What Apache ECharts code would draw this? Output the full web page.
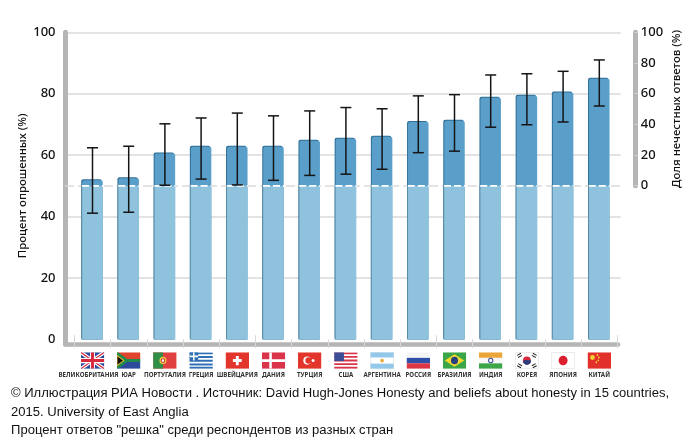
<!DOCTYPE html>
<html><head><meta charset="utf-8">
<style>html,body{margin:0;padding:0;background:#fff}#c{width:700px;height:444px}</style>
<script src="https://cdn.jsdelivr.net/npm/echarts@6/dist/echarts.min.js"></script>
</head><body><div id="c"></div>
<script>
const categories = ['ВЕЛИКОБРИТАНИЯ','ЮАР','ПОРТУГАЛИЯ','ГРЕЦИЯ','ШВЕЙЦАРИЯ','ДАНИЯ','ТУРЦИЯ','США','АРГЕНТИНА','РОССИЯ','БРАЗИЛИЯ','ИНДИЯ','КОРЕЯ','ЯПОНИЯ','КИТАЙ'];
const headsShare = [51.8,52.5,60.5,62.7,62.7,62.7,64.7,65.3,66.0,70.8,71.2,78.7,79.3,80.4,84.9];
const baseline = [50,50,50,50,50,50,50,50,50,50,50,50,50,50,50];
const errHigh = [62.4,62.9,70.2,72.1,73.7,72.8,74.4,75.5,75.1,79.3,79.7,86.1,86.5,87.3,91.0];
const errLow = [41.1,41.4,50.2,52.2,50.3,51.8,53.4,53.8,55.4,60.8,61.3,69.1,69.9,70.8,76.0];
const footerLines = [
 '© Иллюстрация РИА Новости . Источник: David Hugh-Jones Honesty and beliefs about honesty in 15 countries,',
 '2015. University of East Anglia',
 'Процент ответов "решка" среди респондентов из разных стран'
];
const flagBodies = [
 '<rect width="24" height="16" fill="#2b4a9b"/><path d="M0 0L24 16M24 0L0 16" stroke="#fff" stroke-width="3.5"/><path d="M0 0L24 16M24 0L0 16" stroke="#d8283c" stroke-width="1.2"/><path d="M12 0V16M0 8H24" stroke="#fff" stroke-width="5"/><path d="M12 0V16M0 8H24" stroke="#d8283c" stroke-width="3"/>',
 '<rect width="24" height="8" fill="#e0442e"/><rect y="8" width="24" height="8" fill="#2b4a9b"/><path d="M0 0L11 8L0 16" fill="#fff"/><path d="M0 1L10 8L0 15M10 8H24" fill="#1f8a4c" stroke="#1f8a4c" stroke-width="3"/><path d="M0 3L7 8L0 13Z" fill="#111" stroke="#f2c12e"/>',
 '<rect width="24" height="16" fill="#e0403f"/><rect width="10" height="16" fill="#2f8f47"/><circle cx="10" cy="8" r="3.6" fill="#e9c544"/><circle cx="10" cy="8" r="1.8" fill="#fff" stroke="#c33"/>',
 '<rect width="24" height="16" fill="#fff"/><path d="M0 1H24M0 4.6H24M0 8.2H24M0 11.8H24M0 15H24" stroke="#2f6fb5" stroke-width="1.8"/><rect width="9" height="8" fill="#2f6fb5"/><path d="M4.5 0V8M0 4H9" stroke="#fff" stroke-width="1.6"/>',
 '<rect width="24" height="16" fill="#e2352c"/><path d="M12 3.5V12.5M7.5 8H16.5" stroke="#fff" stroke-width="3"/>',
 '<rect width="24" height="16" fill="#d9344a"/><path d="M9 0V16M0 8H24" stroke="#fff" stroke-width="2.6"/>',
 '<rect width="24" height="16" fill="#e2352c"/><circle cx="9.5" cy="8" r="4" fill="#fff"/><circle cx="10.8" cy="8" r="3.2" fill="#e2352c"/><circle cx="15.5" cy="8" r="1.5" fill="#fff"/>',
 '<rect width="24" height="16" fill="#fff"/><path d="M0 1H24M0 4.5H24M0 8H24M0 11.5H24M0 15H24" stroke="#d8344a" stroke-width="1.8"/><rect width="10" height="8.5" fill="#3c4f96"/>',
 '<rect width="24" height="16" fill="#fff" stroke="#ddd"/><rect width="24" height="5" fill="#93c8ea"/><rect y="11" width="24" height="5" fill="#93c8ea"/><circle cx="12" cy="8" r="1.8" fill="#e9a93a"/>',
 '<rect width="24" height="5.4" fill="#f4f4f4"/><rect y="5.4" width="24" height="5.3" fill="#2f4fa8"/><rect y="10.7" width="24" height="5.3" fill="#dc3545"/>',
 '<rect width="24" height="16" fill="#3aa648"/><path d="M12 2L22 8L12 14L2 8Z" fill="#f2d72e"/><circle cx="12" cy="8" r="3.6" fill="#27407f"/>',
 '<rect width="24" height="5.4" fill="#eba63a"/><rect y="5.4" width="24" height="5.3" fill="#f7f7f7"/><rect y="10.7" width="24" height="5.3" fill="#3da648"/><circle cx="12" cy="8" r="2.2" fill="none" stroke="#3a4a9a"/>',
 '<rect width="24" height="16" fill="#fff" stroke="#ddd"/><circle cx="12" cy="8" r="4" fill="#d8283c"/><path d="M8 8.8A4 4 0 0 0 16 7.2C14 9 12 6 8 8.8Z" fill="#27407f"/><path d="M2 3L6 1M3 5L7 3M18 1L22 3M17 3L21 5M2 13L6 15M3 11L7 13M18 15L22 13M17 13L21 11" stroke="#222" stroke-width="1"/>',
 '<rect width="24" height="16" fill="#fff" stroke="#ddd"/><circle cx="12" cy="8" r="4.6" fill="#dc1f2e"/>',
 '<rect width="24" height="16" fill="#e2302a"/><circle cx="5" cy="5" r="2.4" fill="#f2d22e"/><circle cx="10" cy="2.6" r=".9" fill="#f2d22e"/><circle cx="11.5" cy="5" r=".9" fill="#f2d22e"/><circle cx="11" cy="7.8" r=".9" fill="#f2d22e"/><circle cx="9" cy="9.6" r=".9" fill="#f2d22e"/>'
];
const flagUri = b => 'data:image/svg+xml;charset=utf-8,' + encodeURIComponent('<svg xmlns="http://www.w3.org/2000/svg" width="96" height="64" viewBox="0 0 24 16">' + b + '</svg>');
const labelStyle = {fontFamily:'"Noto Sans"',fontSize:6.2,fontWeight:700,color:'#333',height:9,lineHeight:9,align:'center',padding:[4,0,0,0]};
const rich = { t:labelStyle, tLong:{...labelStyle,padding:[4,8,0,0]} };
flagBodies.forEach((b,i)=>{ rich['f'+i] = {width:23.5,height:16.5,align:'center',backgroundColor:{image:flagUri(b)}}; });

const GRID='#dadada', BAND='#b5b5b5', TICK='#d6d6d6';
const Y0=339.4, Y100=32.3, H=Y0-Y100;
const tickFont={fontFamily:'"Noto Sans"',fontSize:13,fontWeight:500,color:'#111'};
const nameFont={fontFamily:'"Noto Sans"',fontSize:11.4,fontWeight:500,color:'#111'};

const chart = echarts.init(document.getElementById('c'),null,{renderer:'canvas'});
chart.setOption({
 animation:false,
 backgroundColor:'#fff',
 title: footerLines.map((s,i)=>({text:s,left:11,top:387+[0,19,37.3][i],padding:0,
   textStyle:{fontFamily:'"Liberation Sans"',fontSize:13.05,fontWeight:400,color:'#111'}})),
 grid:[
  {left:65.5,top:Y100,width:555.2,height:H},
  {left:65.5,top:Y100,width:552.5,height:344.3-Y100},
  {left:65.5,top:Y100,width:555.2,height:153.4},
  {left:74.4,top:Y100,width:543,height:H}
 ],
 xAxis:[
  {gridIndex:0,type:'value',min:0,max:1,show:false},
  {gridIndex:1,type:'value',min:0,max:1,axisLine:{show:true,onZero:false,lineStyle:{color:BAND,width:4.6}},axisTick:{show:false},axisLabel:{show:false},splitLine:{show:false}},
  {gridIndex:2,type:'value',min:0,max:1,axisLine:{show:true,onZero:false,lineStyle:{color:GRID,width:1.5,type:[8,5]}},axisTick:{show:false},axisLabel:{show:false},splitLine:{show:false}},
  {gridIndex:3,type:'category',data:categories,offset:4.9,
    axisLine:{show:false},axisTick:{show:true,length:8.5,lineStyle:{color:TICK,width:1}},
    axisLabel:{interval:0,margin:8,hideOverlap:false,formatter:(v,i)=>'{f'+i+'| }\n{'+(i===0?'tLong':'t')+'|'+v+'}',rich}},
  {gridIndex:3,type:'category',data:categories,offset:4.9,position:'bottom',
    axisLine:{show:false},axisTick:{show:true,inside:true,length:9,lineStyle:{color:TICK,width:1}},axisLabel:{show:false}}
 ],
 yAxis:[
  {gridIndex:0,type:'value',min:0,max:100,interval:20,
    name:'Процент опрошенных (%)',nameLocation:'middle',nameGap:37.5,nameMoveOverlap:false,nameTextStyle:nameFont,
    axisLine:{show:false},axisTick:{show:false},axisLabel:{...tickFont,margin:10},
    splitLine:{show:true,showMinLine:false,lineStyle:{color:GRID,width:1.5}}},
  {gridIndex:1,type:'value',min:0,max:1,axisLine:{show:true,lineStyle:{color:BAND,width:5}},axisTick:{show:false},axisLabel:{show:false},splitLine:{show:false}},
  {gridIndex:2,type:'value',position:'right',offset:14.1,min:0,max:100,interval:20,
    name:'Доля нечестных ответов (%)',nameLocation:'middle',nameGap:36.5,nameMoveOverlap:false,nameRotate:90,nameTextStyle:nameFont,
    axisLine:{show:true,onZero:false,lineStyle:{color:BAND,width:5}},
    axisTick:{show:true,length:3,lineStyle:{color:TICK,width:1}},
    axisLabel:{...tickFont,margin:6},splitLine:{show:false}},
  {gridIndex:3,type:'value',min:0,max:100,interval:20,show:false}
 ],
 series:[
  {type:'bar',xAxisIndex:3,yAxisIndex:3,data:headsShare,barWidth:20.5,barGap:'-100%',z:3,
   itemStyle:{color:'#5a9fca',borderRadius:[2,2,0,0],shadowColor:'#2f6f96',shadowOffsetX:-1,shadowOffsetY:-1,shadowBlur:0}},
  {type:'bar',xAxisIndex:3,yAxisIndex:3,data:baseline,barWidth:20.5,barGap:'-100%',z:4,
   itemStyle:{color:'#8fc2dd',shadowColor:'#5c8ea8',shadowOffsetX:-1,shadowOffsetY:0,shadowBlur:0}},
  {type:'custom',xAxisIndex:3,yAxisIndex:3,z:5,data:baseline.map((v,i)=>[i,v]),encode:{x:0,y:1},
   renderItem(p,api){const c=api.coord([api.value(0),api.value(1)]);const w=10.5;
     return {type:'line',shape:{x1:c[0]-w,y1:c[1],x2:c[0]+w,y2:c[1]},style:{stroke:'#fff',lineWidth:1.6,lineDash:[7,3]}};}},
  {type:'custom',xAxisIndex:3,yAxisIndex:3,z:6,data:categories.map((c,i)=>[i,errLow[i],errHigh[i]]),encode:{x:0,y:[1,2]},
   renderItem(p,api){const hi=api.coord([api.value(0),api.value(2)]),lo=api.coord([api.value(0),api.value(1)]),x=hi[0],w=5.5;
     const st={stroke:'#151515',lineWidth:1.5};
     return {type:'group',children:[
       {type:'line',shape:{x1:x,y1:hi[1],x2:x,y2:lo[1]},style:st},
       {type:'line',shape:{x1:x-w,y1:hi[1],x2:x+w,y2:hi[1]},style:st},
       {type:'line',shape:{x1:x-w,y1:lo[1],x2:x+w,y2:lo[1]},style:st}]};}}
 ]
});
</script></body></html>
